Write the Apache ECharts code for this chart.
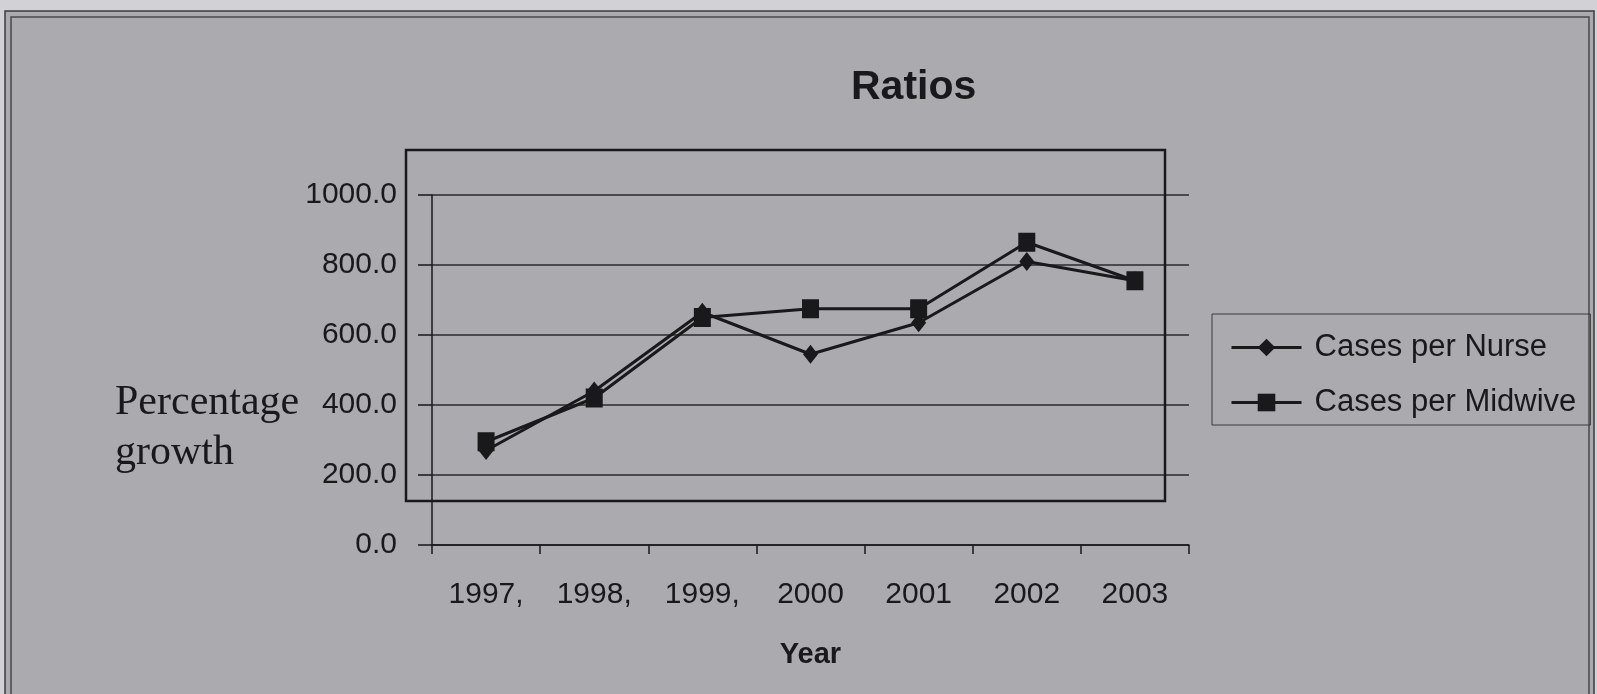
<!DOCTYPE html>
<html>
<head>
<meta charset="utf-8">
<script src="https://cdn.jsdelivr.net/npm/echarts@6/dist/echarts.min.js"></script>
<style>
  html, body { margin: 0; padding: 0; background: #d2d2d6; }
  #chart { width: 1597px; height: 694px; }
</style>
</head>
<body>
<div id="chart"></div>
<script>
// Years on the category axis (the first three carry a trailing comma as printed)
const years = ['1997,', '1998,', '1999,', '2000', '2001', '2002', '2003'];
// Ratio series
const casesPerNurse = [270, 440, 665, 545, 635, 810, 755];
const casesPerMidwive = [295, 420, 650, 675, 675, 865, 755];
// Value axis range and step
const yMin = 0;
const yMax = 1000;
const yStep = 200;

const ink = '#19191b';
const sans = "'Liberation Sans', Arial, sans-serif";
const serif = "'Liberation Serif', 'Times New Roman', serif";

const chart = echarts.init(document.getElementById('chart'), null, { renderer: 'canvas' });

chart.setOption({
  backgroundColor: '#d2d2d6',
  animation: false,
  graphic: [
    // chart area with its double frame
    { type: 'rect', z: -10, shape: { x: 5, y: 11, width: 1589, height: 720 },
      style: { fill: '#ababaf', stroke: '#3c3c3e', lineWidth: 1.5 } },
    { type: 'rect', z: -9, shape: { x: 11, y: 17, width: 1578, height: 720 },
      style: { fill: 'none', stroke: '#4a4a4c', lineWidth: 1.5 } },
    // plot area frame
    { type: 'rect', z: 1, shape: { x: 406, y: 150, width: 759, height: 351 },
      style: { fill: 'none', stroke: ink, lineWidth: 2.5 } }
  ],
  title: [
    { text: 'Ratios', left: 851, top: 67, padding: 0,
      textStyle: { fontFamily: sans, fontSize: 41, fontWeight: 'bold', color: ink } },
    { text: 'Percentage\ngrowth', left: 115, top: 378, padding: 0,
      textStyle: { fontFamily: serif, fontSize: 42, fontWeight: 'normal', lineHeight: 50, color: ink } }
  ],
  legend: {
    orient: 'vertical',
    left: 1212,
    top: 314,
    padding: [17, 14, 6, 18],
    itemWidth: 70,
    itemHeight: 22,
    itemGap: 22,
    borderColor: '#3a3a3c',
    borderWidth: 1,
    lineStyle: { width: 3 },
    textStyle: { fontFamily: sans, fontSize: 31, color: ink, lineHeight: 33, padding: [0, 0, 0, 8] },
    data: ['Cases per Nurse', 'Cases per Midwive']
  },
  grid: { left: 432, top: 195, width: 757, height: 350, outerBoundsMode: 'none' },
  xAxis: {
    type: 'category',
    data: years,
    boundaryGap: true,
    axisLine: { lineStyle: { color: ink, width: 1.5 } },
    axisTick: { show: true, length: 9, lineStyle: { color: ink, width: 1.5 } },
    axisLabel: { interval: 0, margin: 35, fontFamily: sans, fontSize: 30, color: ink },
    splitLine: { show: false },
    name: 'Year',
    nameLocation: 'middle',
    nameGap: 95,
    nameTextStyle: { fontFamily: sans, fontSize: 29, fontWeight: 'bold', color: ink }
  },
  yAxis: {
    type: 'value',
    min: yMin,
    max: yMax,
    interval: yStep,
    axisLine: { show: true, lineStyle: { color: ink, width: 1.5 } },
    axisTick: { show: true, length: 14, lineStyle: { color: ink, width: 1.5 } },
    axisLabel: { margin: 35, formatter: v => v.toFixed(1), fontFamily: sans, fontSize: 30, color: ink },
    splitLine: { show: true, lineStyle: { color: '#2a2a2c', width: 1.5 } }
  },
  series: [
    {
      name: 'Cases per Nurse',
      type: 'line',
      data: casesPerNurse,
      symbol: 'diamond',
      symbolSize: [15, 19],
      lineStyle: { color: ink, width: 3 },
      itemStyle: { color: ink }
    },
    {
      name: 'Cases per Midwive',
      type: 'line',
      data: casesPerMidwive,
      symbol: 'rect',
      symbolSize: [17, 19],
      lineStyle: { color: ink, width: 3 },
      itemStyle: { color: ink }
    }
  ]
});
</script>
</body>
</html>
